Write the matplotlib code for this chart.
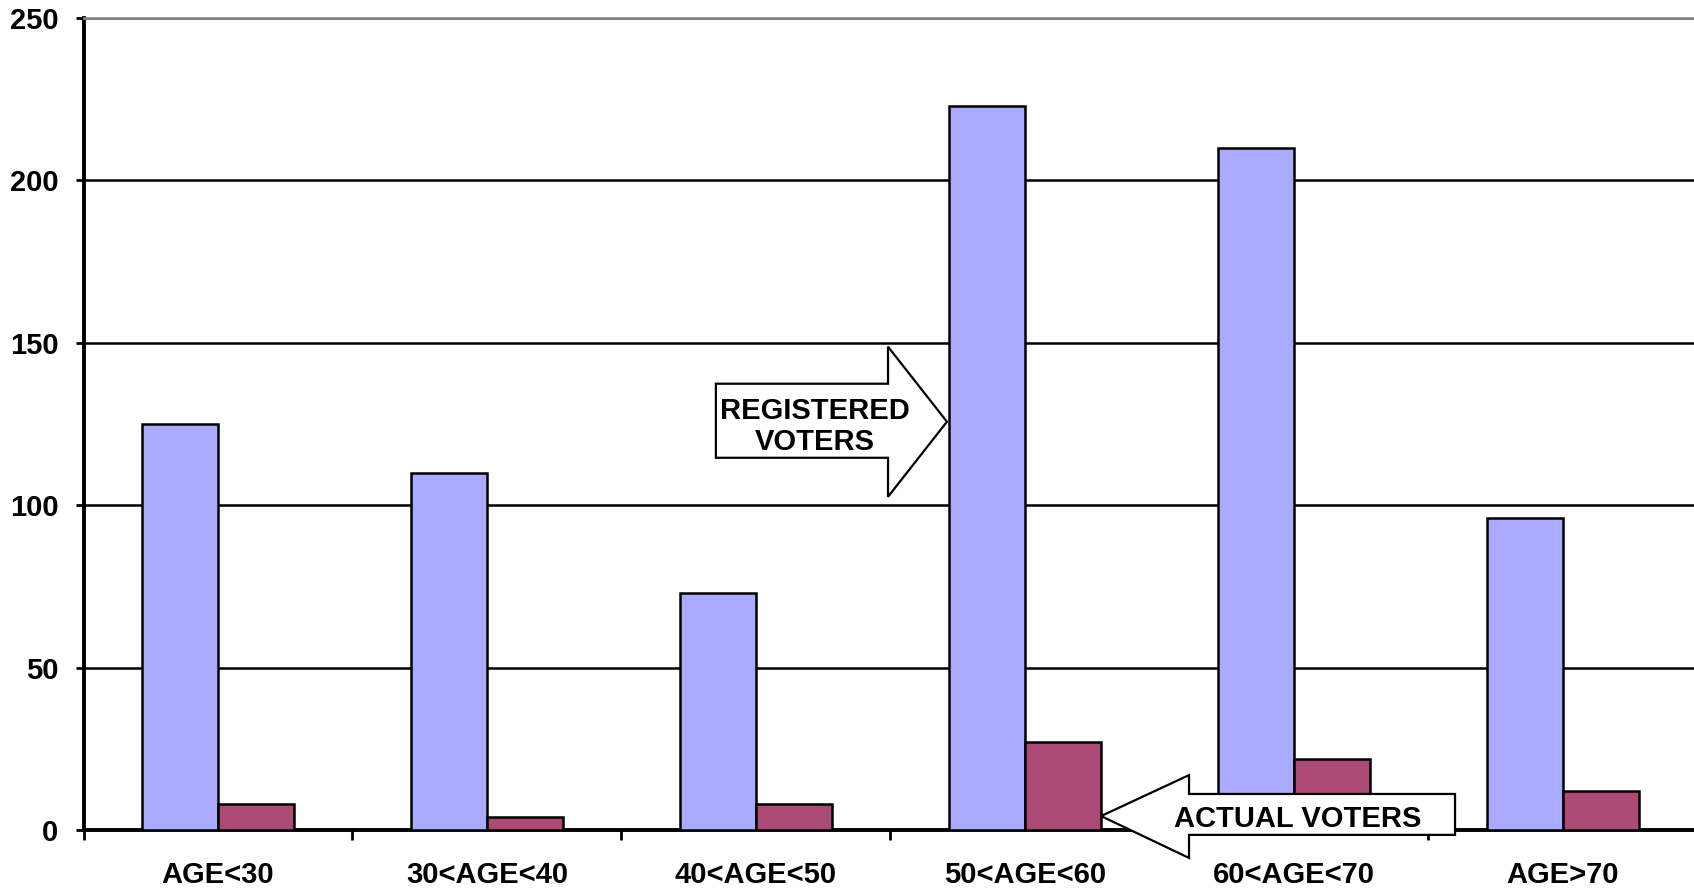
import numpy as np
import matplotlib
matplotlib.use("Agg")
import matplotlib.pyplot as plt
from matplotlib.patches import Polygon

plt.rcParams['font.family'] = ['Liberation Sans', 'DejaVu Sans']
plt.rcParams['font.weight'] = 'bold'

categories = ['AGE<30', '30<AGE<40', '40<AGE<50', '50<AGE<60', '60<AGE<70', 'AGE>70']
registered = [125, 110, 73, 223, 210, 96]
actual = [8, 4, 8, 27, 22, 12]
yticks = [0, 50, 100, 150, 200, 250]

blue = '#AAAAFF'
red = '#AA4A75'
fs = 21

fig = plt.figure(figsize=(16.94, 8.9), dpi=100)
ax = fig.add_axes([0.0493, 0.0674, 0.9527, 0.9124])

x = np.arange(len(categories))
w = 0.283
ax.bar(x - w / 2, registered, w, color=blue, edgecolor='black', linewidth=1.8, zorder=3)
ax.bar(x + w / 2, actual, w, color=red, edgecolor='black', linewidth=1.8, zorder=3)

ax.set_xlim(-0.5, 5.5)
ax.set_ylim(0, 250)
ax.set_yticks(yticks)
ax.set_yticklabels([str(v) for v in yticks], fontsize=fs, fontweight='bold')
ax.set_xticks(x)
ax.set_xticklabels(categories, fontsize=fs, fontweight='bold')
ax.set_xticks(np.arange(-0.5, 6.0, 1.0), minor=True)
ax.tick_params(axis='x', which='major', length=0, pad=22)
ax.tick_params(axis='x', which='minor', length=7, width=2, direction='out')
ax.tick_params(axis='y', length=6, width=2, pad=12)

ax.grid(axis='y', color='black', linewidth=1.8, zorder=0)
ax.set_axisbelow(True)
ax.spines['right'].set_visible(False)
ax.spines['top'].set_color('#888888')
ax.spines['top'].set_linewidth(2)
ax.spines['left'].set_linewidth(2.8)
ax.spines['bottom'].set_linewidth(2.8)

# callout arrows (data coords)
reg_arrow = [(1.851, 137.4), (2.491, 137.4), (2.491, 148.8), (2.710, 125.7),
             (2.491, 102.6), (2.491, 114.6), (1.851, 114.6)]
ax.add_patch(Polygon(reg_arrow, closed=True, facecolor='white', edgecolor='black',
                     linewidth=1.6, zorder=5, clip_on=False))
ax.text(2.22, 124.3, 'REGISTERED\nVOTERS', ha='center', va='center', fontsize=fs,
        fontweight='bold', zorder=6, linespacing=1.15)

act_arrow = [(3.283, 4.3), (3.610, 16.9), (3.610, 11.1), (4.599, 11.1),
             (4.599, -1.5), (3.610, -1.5), (3.610, -8.6)]
ax.add_patch(Polygon(act_arrow, closed=True, facecolor='white', edgecolor='black',
                     linewidth=1.6, zorder=5, clip_on=False))
ax.text(4.015, 3.4, 'ACTUAL VOTERS', ha='center', va='center', fontsize=fs,
        fontweight='bold', zorder=6)

fig.savefig('out.png', dpi=100)
